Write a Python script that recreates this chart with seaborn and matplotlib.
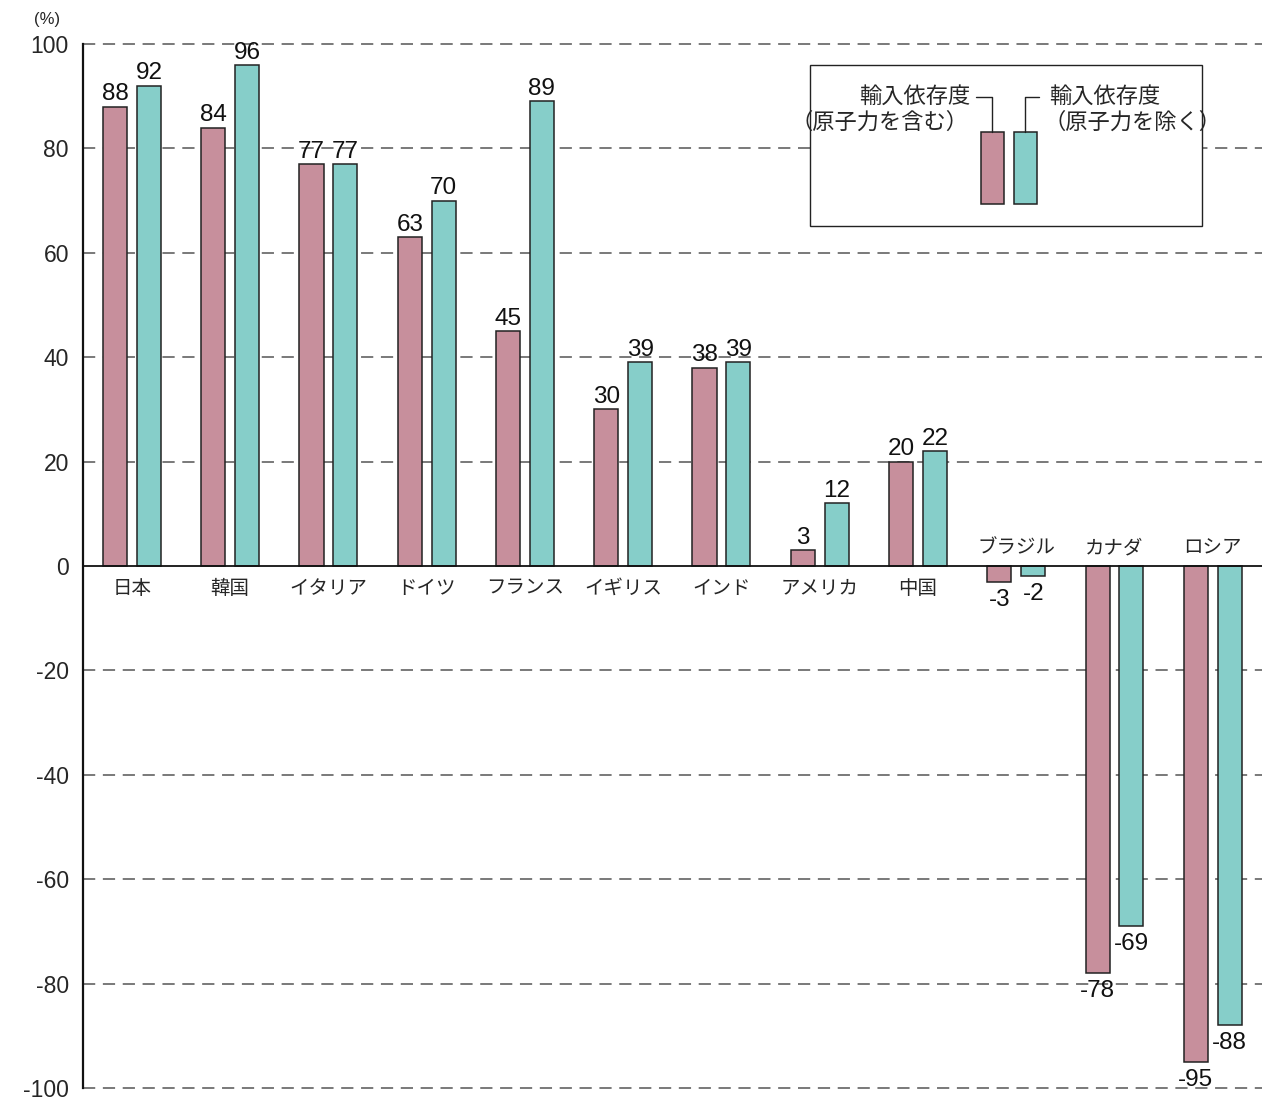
import pandas as pd
import seaborn as sns
import matplotlib.pyplot as plt
from matplotlib.patches import Rectangle

# データ
countries = ['日本', '韓国', 'イタリア', 'ドイツ', 'フランス', 'イギリス', 'インド', 'アメリカ', '中国', 'ブラジル', 'カナダ', 'ロシア']
incl_nuclear = [88, 84, 77, 63, 45, 30, 38, 3, 20, -3, -78, -95]
excl_nuclear = [92, 96, 77, 70, 89, 39, 39, 12, 22, -2, -69, -88]
series_names = ['輸入依存度（原子力を含む）', '輸入依存度（原子力を除く）']
yticks = [100, 80, 60, 40, 20, 0, -20, -40, -60, -80, -100]

df = pd.DataFrame({
    'country': countries * 2,
    'value': incl_nuclear + excl_nuclear,
    'series': [series_names[0]] * len(countries) + [series_names[1]] * len(countries),
})

sns.set_theme(style='white')
plt.rcParams['font.family'] = ['Liberation Sans', 'Noto Sans CJK JP', 'DejaVu Sans']
jp = ['Noto Sans CJK JP', 'DejaVu Sans']

pink = '#C78F9C'
teal = '#86CEC9'

fig = plt.figure(figsize=(12.74, 11.02), dpi=100)
ax = fig.add_axes([0.065, 0.0127, 0.9255, 0.9473])

sns.barplot(data=df, x='country', y='value', hue='series', order=countries,
            hue_order=series_names, palette=[pink, teal], saturation=1,
            width=0.69, gap=0.29, edgecolor='#222222', linewidth=1.1,
            legend=False, ax=ax, zorder=3)

# 数値ラベル（正は棒の上、負は棒の下）
for cont, vals in zip(ax.containers, [incl_nuclear, excl_nuclear]):
    pos = [str(v) if v >= 0 else '' for v in vals]
    neg = [str(v) if v < 0 else '' for v in vals]
    ax.bar_label(cont, labels=pos, padding=1, fontsize=17.5, color='#111111')
    ax.bar_label(cont, labels=neg, padding=5, fontsize=17.5, color='#111111')

# 国名ラベル
for i, (c, v) in enumerate(zip(countries, incl_nuclear)):
    if v >= 0:
        ax.text(i, -2.2, c, ha='center', va='top', fontsize=14, family=jp)
    else:
        ax.text(i, 1.5, c, ha='center', va='bottom', fontsize=14, family=jp)

# 軸
ax.set_xlim(-0.5, len(countries) - 0.5)
ax.set_ylim(-100, 100)
ax.set_yticks(yticks)
ax.set_yticklabels([str(t) for t in yticks], fontsize=16.5)
ax.tick_params(axis='y', length=0, pad=10)
ax.set_xticks([])
ax.set_xlabel('')
ax.set_ylabel('')
for s in ['top', 'right', 'bottom']:
    ax.spines[s].set_visible(False)
ax.spines['left'].set_color('#111111')
ax.spines['left'].set_linewidth(1.6)

for t in yticks:
    if t == 0:
        ax.axhline(0, color='#111111', lw=1.3, zorder=4)
    else:
        ax.axhline(t, color='#555555', lw=1.1, ls=(0, (8, 5)), zorder=1, clip_on=False)

ax.text(-0.86, 103.3, '(%)', fontsize=12, ha='center', va='bottom', clip_on=False)

# 凡例
ax.add_patch(Rectangle((6.90, 65.1), 3.99, 30.9, facecolor='white', edgecolor='#222222', lw=1.0, zorder=5))
ax.add_patch(Rectangle((8.64, 69.3), 0.24, 13.8, facecolor=pink, edgecolor='#222222', lw=1.1, zorder=6))
ax.add_patch(Rectangle((8.976, 69.3), 0.234, 13.8, facecolor=teal, edgecolor='#222222', lw=1.1, zorder=6))
ax.plot([8.59, 8.75, 8.75], [89.8, 89.8, 83.1], color='#222222', lw=1.0, zorder=6)
ax.plot([9.23, 9.09, 9.09], [89.8, 89.8, 83.1], color='#222222', lw=1.0, zorder=6)
ax.text(8.53, 90.0, '輸入依存度', ha='right', va='center', fontsize=16, family=jp, zorder=7)
ax.text(8.51, 85.0, '（原子力を含む）', ha='right', va='center', fontsize=16, family=jp, zorder=7)
ax.text(9.33, 90.0, '輸入依存度', ha='left', va='center', fontsize=16, family=jp, zorder=7)
ax.text(9.28, 85.0, '（原子力を除く）', ha='left', va='center', fontsize=16, family=jp, zorder=7)

plt.savefig('out.png', dpi=100)
